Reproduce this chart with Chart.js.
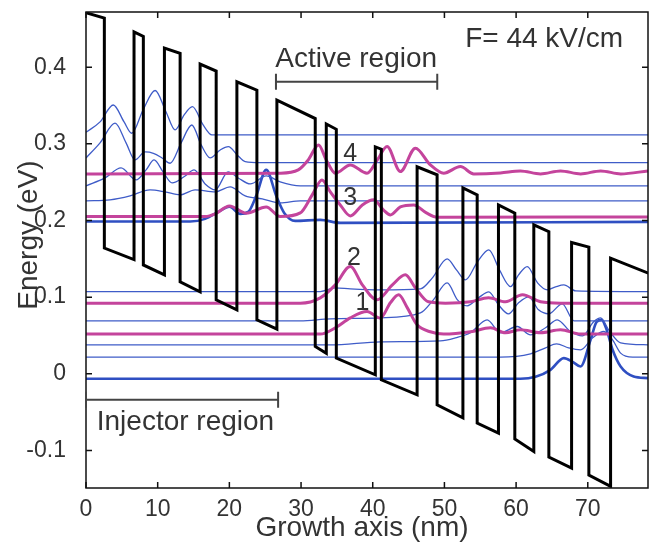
<!DOCTYPE html>
<html>
<head>
<meta charset="utf-8">
<script src="https://cdn.jsdelivr.net/npm/chart.js@4.4.1/dist/chart.umd.min.js"></script>
<style>
  html, body { margin: 0; padding: 0; background: #fff; }
  canvas { display: block; }
</style>
</head>
<body>
<canvas id="myChart" width="653" height="547"></canvas>
<script>
// axis ticks
var xTicks = [0, 10, 20, 30, 40, 50, 60, 70];
var yTicks = [-0.1, 0, 0.1, 0.2, 0.3, 0.4];

// conduction band profile (nm, eV)
var bandX = [0, 2.56, 2.56, 6.70, 6.70, 8.00, 8.00, 10.94, 10.94, 13.13, 13.13, 15.92, 15.92, 18.16, 18.16, 21.05,
  21.05, 23.84, 23.84, 26.63, 26.63, 31.98, 31.98, 33.52, 33.52, 34.92, 34.92, 40.36, 40.36, 41.2, 41.2, 46.19,
  46.19, 48.98, 48.98, 52.58, 52.58, 54.57, 54.57, 57.54, 57.54, 59.82, 59.82, 62.47, 62.47, 64.57, 64.57, 67.74,
  67.74, 70.15, 70.15, 73.18, 73.18, 78.45];
var bandE = [0.471, 0.464, 0.164, 0.149, 0.446, 0.440, 0.142, 0.129, 0.425, 0.418, 0.120, 0.107, 0.404, 0.395, 0.0965, 0.0834,
  0.381, 0.370, 0.0704, 0.0583, 0.357, 0.333, 0.0356, 0.0267, 0.326, 0.319, 0.0205, -0.0013, 0.296, 0.293, -0.0078, -0.0274,
  0.270, 0.2595, -0.0404, -0.0574, 0.2425, 0.2334, -0.0643, -0.0773, 0.2203, 0.2095, -0.0851, -0.1013, 0.1943, 0.1855, -0.1087, -0.123,
  0.1712, 0.1652, -0.1321, -0.1469, 0.1508, 0.1313];

// subband wavefunctions |psi|^2 drawn on their levels: [nm, eV]
var upper1 = [[0, 0.315], [1.96, 0.3286], [3.81, 0.3507], [5.31, 0.3286], [6.38, 0.3138], [7.96, 0.3442], [9.64, 0.3696],
  [11.17, 0.3416], [12.43, 0.3181], [13.69, 0.3377], [14.85, 0.3485], [16.34, 0.3246], [17.56, 0.3116], [78.4, 0.3116]];
var upper2 = [[0, 0.2816], [1.96, 0.3012], [4.05, 0.3269], [5.59, 0.3012], [6.84, 0.279], [8.24, 0.2894], [9.40, 0.2877],
  [10.61, 0.2816], [11.73, 0.2747], [13.27, 0.3012], [14.76, 0.3246], [16.06, 0.2986], [17.32, 0.2816], [18.72, 0.292],
  [19.87, 0.2964], [21.09, 0.2855], [22.21, 0.2768], [24.3, 0.2755], [78.4, 0.2755]];
var upper3 = [[0, 0.2451], [2.65, 0.2555], [4.89, 0.2686], [6.98, 0.2529], [8.38, 0.266], [9.50, 0.279], [10.75, 0.2634],
  [12.01, 0.249], [13.83, 0.2581], [15.08, 0.266], [16.62, 0.2477], [18.02, 0.2399], [19.83, 0.2634], [21.23, 0.2555],
  [22.91, 0.2477], [25.14, 0.2581], [27.09, 0.2503], [29.89, 0.2451], [78.4, 0.2451]];
var upper4 = [[0, 0.2255], [3.35, 0.2269], [6.15, 0.2321], [8.94, 0.2399], [11.03, 0.2373], [13.13, 0.2334], [15.22, 0.2399],
  [18.02, 0.2373], [20.11, 0.2438], [22.21, 0.2321], [24.58, 0.2282], [27.09, 0.2229], [29.89, 0.2255], [78.4, 0.2255]];
var upper5 = [[0, 0.1986], [14.53, 0.1986], [16.62, 0.2021], [18.44, 0.2112], [20.01, 0.2181], [21.51, 0.2086], [22.63, 0.2112],
  [23.74, 0.2321], [25.14, 0.266], [26.54, 0.2321], [27.65, 0.2099], [29.19, 0.1995], [32.68, 0.2008], [35.47, 0.1969], [78.4, 0.1982]];
var level4 = [[0, 0.2608], [27.09, 0.2617], [29.61, 0.266], [31.0, 0.279], [32.44, 0.2986], [33.52, 0.279], [34.78, 0.2617],
  [36.87, 0.2725], [39.2, 0.2617], [40.64, 0.279], [42.0, 0.2964], [43.85, 0.2638], [45.95, 0.2943], [48.04, 0.2725],
  [49.9, 0.2617], [52.23, 0.2703], [54.09, 0.2608], [57.8, 0.2621], [60.6, 0.2647], [63.4, 0.2608], [66.2, 0.2647],
  [69.0, 0.2608], [71.8, 0.2647], [74.6, 0.2608], [78.4, 0.2647]];
var level3 = [[0, 0.2051], [16.62, 0.2051], [18.02, 0.2086], [20.01, 0.219], [22.35, 0.2095], [25.14, 0.2177], [27.09, 0.2051],
  [29.89, 0.2099], [31.56, 0.2334], [32.92, 0.2529], [34.08, 0.2373], [35.47, 0.2203], [36.87, 0.206], [38.55, 0.2203],
  [40.13, 0.2269], [41.48, 0.2138], [42.46, 0.2073], [43.85, 0.2177], [45.71, 0.2203], [47.49, 0.2099], [48.98, 0.2043], [78.4, 0.2047]];
var level2 = [[0, 0.0921], [29.89, 0.0921], [32.68, 0.0991], [34.78, 0.116], [36.87, 0.1399], [38.55, 0.116], [40.6, 0.0965],
  [42.74, 0.116], [44.55, 0.1291], [45.95, 0.1121], [47.77, 0.0939], [50.14, 0.0921], [53.63, 0.0939], [56.15, 0.0991],
  [58.52, 0.0939], [60.89, 0.103], [63.41, 0.0939], [66.2, 0.0921], [78.4, 0.0921]];
var level1 = [[0, 0.0518], [32.68, 0.0518], [34.78, 0.06], [36.87, 0.073], [39.2, 0.0812], [41.06, 0.0726], [42.46, 0.0926],
  [43.62, 0.103], [44.83, 0.086], [46.19, 0.0639], [48.04, 0.0548], [49.9, 0.0518], [53.63, 0.0548], [56.42, 0.06],
  [58.52, 0.0535], [60.61, 0.0574], [63.41, 0.0535], [66.2, 0.0574], [68.99, 0.0518], [78.4, 0.0518]];
var lower1 = [[0, 0.1073], [32.68, 0.1073], [34.78, 0.1121], [36.87, 0.1108], [41.06, 0.1095], [46.65, 0.1108], [48.32, 0.1252],
  [50.38, 0.1499], [51.68, 0.1356], [52.93, 0.1226], [54.61, 0.146], [56.19, 0.1617], [57.68, 0.1356], [59.22, 0.1138],
  [60.34, 0.1291], [61.55, 0.1399], [62.99, 0.1186], [64.34, 0.1095], [65.5, 0.1134], [66.66, 0.116], [68.3, 0.1082], [78.4, 0.1073]];
var lower2 = [[0, 0.0691], [29.89, 0.0691], [34.08, 0.0717], [41.06, 0.073], [46.65, 0.0795], [48.46, 0.0965], [50.38, 0.1186],
  [51.82, 0.0965], [53.17, 0.0887], [54.75, 0.0991], [56.19, 0.1069], [57.54, 0.09], [58.94, 0.0782], [60.34, 0.0926],
  [61.77, 0.1004], [63.13, 0.0834], [64.53, 0.0782], [66.44, 0.0913], [68.06, 0.0691], [78.4, 0.0691]];
var lower3 = [[0, 0.0378], [34.08, 0.0378], [41.06, 0.0417], [49.44, 0.043], [51.54, 0.0469], [53.63, 0.0535], [55.96, 0.0704],
  [57.82, 0.0535], [60.15, 0.0617], [62.01, 0.0508], [64.11, 0.06], [65.74, 0.0704], [67.6, 0.0548], [69.27, 0.0495],
  [70.81, 0.0678], [71.79, 0.073], [72.91, 0.0574], [74.58, 0.0404], [78.4, 0.0378]];
var lower4 = [[0, 0.0218], [57.82, 0.0218], [62.01, 0.0261], [64.11, 0.0339], [65.64, 0.0391], [67.32, 0.0339], [68.99, 0.0313],
  [70.67, 0.0469], [72.25, 0.0552], [73.46, 0.0443], [74.58, 0.027], [76.26, 0.0218], [78.4, 0.0218]];
var lower5 = [[0, -0.0065], [60.61, -0.0065], [62.71, -0.0039], [64.8, 0.0052], [66.66, 0.0205], [67.88, 0.0156], [68.99, 0.0095],
  [70.39, 0.0443], [71.23, 0.0678], [71.93, 0.0704], [72.63, 0.0574], [73.46, 0.0313], [74.58, 0.0095], [76.4, -0.0035], [78.4, -0.0056]];

// level labels
var levelNames = ['4', '3', '2', '1'];
var levelNameX = [35.9, 35.9, 36.4, 37.6];
var levelNameE = [0.277, 0.220, 0.142, 0.083];

(function () {
  'use strict'

  var BLUE = '#3f5cc8';
  var MAGENTA = '#c4449c';

  function pts(arr) {
    return arr.map(function (p) { return { x: p[0], y: p[1] }; });
  }
  function wave(arr, color, width, order) {
    return {
      data: pts(arr), showLine: true, borderColor: color, borderWidth: width,
      pointRadius: 0, tension: 0.4, cubicInterpolationMode: 'monotone', order: order
    };
  }

  var band = bandX.map(function (x, i) { return { x: x, y: bandE[i] }; });

  var datasets = [
    { data: band, showLine: true, borderColor: '#000', borderWidth: 3, pointRadius: 0, tension: 0, order: 0 },
    wave(level4, MAGENTA, 3, 1),
    wave(level3, MAGENTA, 3, 1),
    wave(level2, MAGENTA, 3, 1),
    wave(level1, MAGENTA, 3, 1),
    wave(upper1, BLUE, 1.3, 2),
    wave(upper2, BLUE, 1.3, 2),
    wave(upper3, BLUE, 1.3, 2),
    wave(upper4, BLUE, 1.3, 2),
    wave(upper5, '#2f4fc2', 2.6, 2),
    wave(lower1, BLUE, 1.3, 2),
    wave(lower2, BLUE, 1.3, 2),
    wave(lower3, BLUE, 1.3, 2),
    wave(lower4, BLUE, 1.3, 2),
    wave(lower5, '#2f4fc2', 2.6, 2)
  ];

  // box, inward ticks, brackets and texts
  var frame = {
    id: 'frame',
    afterDraw: function (chart) {
      var ctx = chart.ctx, a = chart.chartArea;
      var x = chart.scales.x, y = chart.scales.y;
      ctx.save();
      ctx.strokeStyle = '#111';
      ctx.lineWidth = 1.5;
      ctx.strokeRect(a.left, a.top, a.right - a.left, a.bottom - a.top);
      ctx.beginPath();
      xTicks.forEach(function (v) {
        var px = x.getPixelForValue(v);
        ctx.moveTo(px, a.bottom); ctx.lineTo(px, a.bottom - 6);
        ctx.moveTo(px, a.top); ctx.lineTo(px, a.top + 6);
      });
      yTicks.forEach(function (v) {
        var py = y.getPixelForValue(v);
        ctx.moveTo(a.left, py); ctx.lineTo(a.left + 6, py);
        ctx.moveTo(a.right, py); ctx.lineTo(a.right - 6, py);
      });
      ctx.stroke();

      // region brackets
      ctx.strokeStyle = '#444';
      ctx.lineWidth = 2;
      function bracket(x0, x1, e) {
        var p0 = x.getPixelForValue(x0), p1 = x.getPixelForValue(x1), py = y.getPixelForValue(e);
        ctx.beginPath();
        ctx.moveTo(p0, py); ctx.lineTo(p1, py);
        ctx.moveTo(p0, py - 8); ctx.lineTo(p0, py + 8);
        ctx.moveTo(p1, py - 8); ctx.lineTo(p1, py + 8);
        ctx.stroke();
      }
      bracket(26.5, 49.0, 0.381);
      bracket(0, 26.8, -0.034);

      ctx.fillStyle = '#333';
      ctx.textBaseline = 'alphabetic';
      ctx.textAlign = 'left';
      ctx.font = '28px "Liberation Sans", Arial, sans-serif';
      ctx.fillText('Active region', x.getPixelForValue(26.4), y.getPixelForValue(0.4007));
      ctx.fillText('Injector region', x.getPixelForValue(1.5), y.getPixelForValue(-0.073));
      ctx.fillText('F= 44 kV/cm', x.getPixelForValue(52.9), y.getPixelForValue(0.4267));

      ctx.font = '25px "Liberation Sans", Arial, sans-serif';
      levelNames.forEach(function (t, i) {
        ctx.fillText(t, x.getPixelForValue(levelNameX[i]), y.getPixelForValue(levelNameE[i]));
      });

      // axis titles
      ctx.font = '28px "Liberation Sans", Arial, sans-serif';
      ctx.textAlign = 'center';
      ctx.textBaseline = 'middle';
      ctx.fillText('Growth axis (nm)', 362, 528);
      ctx.translate(29, 235);
      ctx.rotate(-Math.PI / 2);
      ctx.fillText('Energy (eV)', 0, 0);
      ctx.restore();
    }
  };

  Chart.defaults.font.family = '"Liberation Sans", Arial, sans-serif';
  Chart.defaults.color = '#333';

  var ctx = document.getElementById('myChart').getContext('2d');
  // eslint-disable-next-line no-unused-vars
  var myChart = new Chart(ctx, {
    type: 'scatter',
    data: { datasets: datasets },
    options: {
      responsive: false,
      animation: false,
      devicePixelRatio: 1,
      layout: { padding: { left: 0, right: 5, top: 12, bottom: 0 } },
      plugins: { legend: { display: false }, tooltip: { enabled: false } },
      scales: {
        x: {
          type: 'linear', min: 0, max: 78.4,
          grid: { display: false, drawTicks: false },
          border: { display: false },
          afterFit: function (s) { s.height = 59; s.paddingLeft = 0; s.paddingRight = 0; },
          afterBuildTicks: function (s) { s.ticks = xTicks.map(function (v) { return { value: v }; }); },
          ticks: { font: { size: 23 }, padding: 8, maxRotation: 0, callback: function (v) { return String(v); } }
        },
        y: {
          type: 'linear', min: -0.149, max: 0.472,
          grid: { display: false, drawTicks: false },
          border: { display: false },
          afterFit: function (s) { s.width = 86; s.paddingTop = 0; s.paddingBottom = 0; },
          afterBuildTicks: function (s) { s.ticks = yTicks.map(function (v) { return { value: v }; }); },
          ticks: { font: { size: 23 }, padding: 20, callback: function (v) { return String(v); } }
        }
      }
    },
    plugins: [frame]
  })
}())
</script>
</body>
</html>
